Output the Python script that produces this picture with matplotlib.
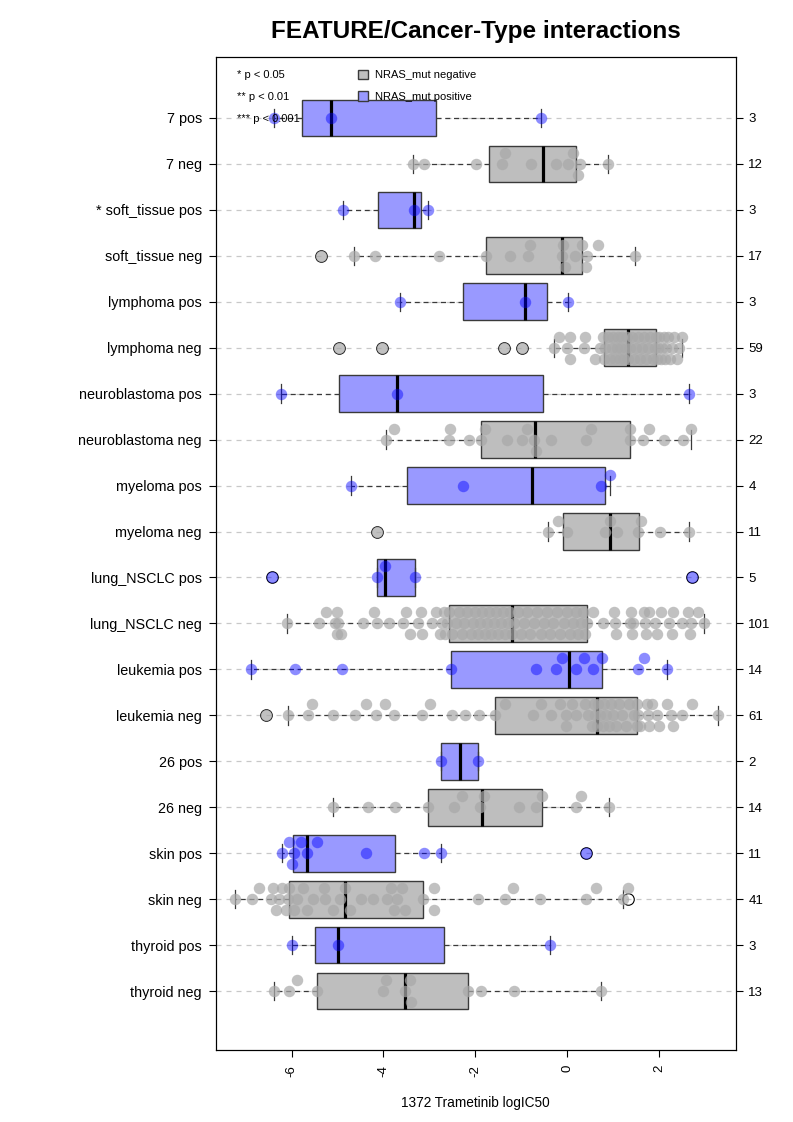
import numpy as np
import matplotlib
matplotlib.use("Agg")
import matplotlib.pyplot as plt
from matplotlib.patches import Patch

plt.rcParams['font.family'] = ['Liberation Sans', 'DejaVu Sans']

# ---------------------------------------
# DATA (top row first)
# ---------------------------------------
labels = ["7 pos", "7 neg", "* soft_tissue pos", "soft_tissue neg",
          "lymphoma pos", "lymphoma neg", "neuroblastoma pos", "neuroblastoma neg",
          "myeloma pos", "myeloma neg", "lung_NSCLC pos", "lung_NSCLC neg",
          "leukemia pos", "leukemia neg", "26 pos", "26 neg",
          "skin pos", "skin neg", "thyroid pos", "thyroid neg"]

v_7_pos = [-6.38, -5.15, -0.57]
v_7_neg = [-3.36, -3.11, -1.99, -1.41, -1.35, -0.79, -0.25, 0.01, 0.13, 0.23, 0.28, 0.89]
v_soft_pos = [-4.89, -3.33, -3.04]
v_soft_neg = [-5.36, -4.63, -4.18, -2.78, -1.77, -1.24, -0.85, -0.81, -0.11, -0.09,
              -0.05, 0.17, 0.32, 0.40, 0.44, 0.66, 1.47]
v_lymph_pos = [-3.63, -0.91, 0.02]
v_lymph_neg = [-4.96, -4.03, -1.37, -0.99, -0.29, -0.19, -0.01, 0.05, 0.06, 0.37,
               0.38, 0.61, 0.72, 0.78, 0.80, 0.82, 0.88, 0.92, 0.97, 1.00,
               1.04, 1.08, 1.10, 1.14, 1.18, 1.20, 1.24, 1.27, 1.30, 1.32,
               1.36, 1.40, 1.45, 1.50, 1.54, 1.58, 1.62, 1.67, 1.72, 1.76,
               1.80, 1.86, 1.90, 1.93, 1.95, 1.98, 2.00, 2.04, 2.07, 2.10,
               2.12, 2.15, 2.20, 2.24, 2.28, 2.32, 2.38, 2.44, 2.50]
v_neuro_pos = [-6.22, -3.70, 2.66]
v_neuro_neg = [-3.95, -3.78, -2.58, -2.56, -2.14, -1.88, -1.78, -1.32, -0.99, -0.87,
               -0.73, -0.68, -0.36, 0.40, 0.51, 1.36, 1.37, 1.65, 1.77, 2.11, 2.52, 2.69]
v_myel_pos = [-4.71, -2.27, 0.74, 0.92]
v_myel_neg = [-4.14, -0.41, -0.20, 0.0, 0.83, 0.93, 1.09, 1.53, 1.61, 2.01, 2.64]
v_lung_pos = [-6.42, -4.14, -3.97, -3.31, 2.72]
v_lung_neg = [-6.09, -5.40, -5.24, -5.06, -5.02, -5.00, -4.98, -4.93, -4.45, -4.21,
              -4.15, -3.88, -3.58, -3.50, -3.42, -3.25, -3.19, -3.17, -2.95, -2.85,
              -2.76, -2.72, -2.69, -2.66, -2.62, -2.57,
              -2.50, -2.42, -2.35, -2.30, -2.25, -2.18, -2.10, -2.05, -2.00, -1.95,
              -1.90, -1.85, -1.80, -1.75, -1.70, -1.65, -1.60, -1.55, -1.50, -1.45,
              -1.40, -1.35, -1.30, -1.25, -1.21,
              -1.15, -1.08, -1.00, -0.95, -0.88, -0.80, -0.72, -0.65, -0.58, -0.50,
              -0.45, -0.38, -0.30, -0.22, -0.15, -0.08, 0.00, 0.06, 0.12, 0.18,
              0.24, 0.30, 0.35, 0.39, 0.42,
              0.55, 0.78, 1.02, 1.04, 1.06, 1.36, 1.38, 1.40, 1.42, 1.66,
              1.69, 1.72, 1.78, 1.90, 1.95, 2.05, 2.21, 2.28, 2.30, 2.50,
              2.62, 2.67, 2.70, 2.85, 2.97]
v_leuk_pos = [-6.88, -5.93, -4.91, -2.52, -0.67, -0.24, -0.11, 0.18, 0.36, 0.57,
              0.75, 1.53, 1.67, 2.16]
v_leuk_neg = [-6.56, -6.07, -5.64, -5.55, -5.10, -4.61, -4.38, -4.17, -3.97, -3.78,
              -3.16, -2.99, -2.50, -2.22, -1.91, -1.57,
              -1.35, -0.75, -0.57, -0.35, -0.16, -0.03, -0.02, 0.11, 0.19, 0.39,
              0.45, 0.54, 0.58, 0.61, 0.64,
              0.67, 0.72, 0.78, 0.80, 0.85, 0.90, 0.95, 1.00, 1.05, 1.12,
              1.20, 1.28, 1.35, 1.45, 1.51,
              1.52, 1.55, 1.58, 1.74, 1.76, 1.78, 1.85, 1.95, 2.00, 2.18,
              2.25, 2.30, 2.50, 2.72, 3.27]
v_26_pos = [-2.74, -1.94]
v_26_neg = [-5.10, -4.33, -3.74, -3.04, -2.47, -2.30, -1.89, -1.81, -1.04, -0.67,
            -0.56, 0.18, 0.29, 0.90]
v_skin_pos = [-6.21, -6.06, -5.98, -5.95, -5.80, -5.67, -5.44, -4.38, -3.11, -2.74, 0.41]
v_skin_neg = [-7.22, -6.86, -6.71, -6.45, -6.40, -6.34, -6.28, -6.20, -6.12, -6.08,
              -6.05, -5.95, -5.89, -5.75, -5.66, -5.53, -5.30, -5.27, -5.10, -4.95,
              -4.84, -4.72, -4.48, -4.22, -3.93, -3.83, -3.76, -3.70, -3.60, -3.52,
              -3.14, -2.91, -2.90, -1.94, -1.35, -1.19, -0.60, 0.40, 0.62, 1.21, 1.33]
v_thyr_pos = [-6.00, -4.99, -0.38]
v_thyr_neg = [-6.39, -6.06, -5.88, -5.44, -4.01, -3.94, -3.52, -3.42, -3.40, -2.15,
              -1.88, -1.16, 0.73]

values = [v_7_pos, v_7_neg, v_soft_pos, v_soft_neg, v_lymph_pos, v_lymph_neg,
          v_neuro_pos, v_neuro_neg, v_myel_pos, v_myel_neg, v_lung_pos, v_lung_neg,
          v_leuk_pos, v_leuk_neg, v_26_pos, v_26_neg, v_skin_pos, v_skin_neg,
          v_thyr_pos, v_thyr_neg]

xticks = [-6, -4, -2, 0, 2]
pvalue_notes = ["* p < 0.05", "** p < 0.01", "*** p < 0.001"]
legend_labels = ["NRAS_mut negative", "NRAS_mut positive"]

GRAY_BOX = "#BEBEBE"
BLUE_BOX = "#9999FF"
GRAY_PT = "#A9A9A9"
BLUE_PT = "#0000FF"


def fivenum(x):
    # hinges like R's fivenum / boxplot.stats
    x = np.sort(np.asarray(x, dtype=float))
    n = len(x)
    n4 = np.floor((n + 3) / 2) / 2
    d = np.array([1, n4, (n + 1) / 2, n + 1 - n4, n]) - 1
    return 0.5 * (x[np.floor(d).astype(int)] + x[np.ceil(d).astype(int)])


def box_stats(x):
    x = np.asarray(x, dtype=float)
    f = fivenum(x)
    iqr = f[3] - f[1]
    lo_lim, hi_lim = f[1] - 1.5 * iqr, f[3] + 1.5 * iqr
    inside = x[(x >= lo_lim) & (x <= hi_lim)]
    return dict(med=f[2], q1=f[1], q3=f[3], whislo=inside.min(), whishi=inside.max(),
                fliers=x[(x < lo_lim) | (x > hi_lim)])


def swarm_offsets(x, dx=0.25, step=0.24):
    # simple beeswarm: centre line first, then above, then below
    x = np.asarray(x, dtype=float)
    placed = {0: [], 1: [], -1: []}
    offs = np.zeros(len(x))
    for i in np.argsort(x, kind="stable"):
        best, bestgap = 0, -1.0
        for lev in (0, 1, -1):
            gap = min([abs(x[i] - p) for p in placed[lev]], default=np.inf)
            if gap >= dx:
                best = lev
                break
            if gap > bestgap:
                best, bestgap = lev, gap
        placed[best].append(x[i])
        offs[i] = best * step
    return offs


n_rows = len(labels)
positions = np.arange(n_rows, 0, -1)
counts = [len(v) for v in values]

fig = plt.figure(figsize=(7.93, 11.22), dpi=100)
ax = fig.add_axes([0.272, 0.0646, 0.656, 0.8843])
ax.set_xlim(-7.65, 3.67)
ax.set_ylim(-0.273, 21.32)

# grid lines
for p in positions:
    ax.axhline(p, color="#C8C8C8", lw=0.9, ls=(0, (4, 4)), zorder=0)

for lab, vals, pos in zip(labels, values, positions):
    is_pos = lab.endswith("pos")
    st = box_stats(vals)
    ax.bxp([st], positions=[pos], widths=0.8, orientation="horizontal",
           patch_artist=True, capwidths=0.4, manage_ticks=False,
           boxprops=dict(facecolor=BLUE_BOX if is_pos else GRAY_BOX,
                         edgecolor="#3A3A3A", lw=1.0),
           medianprops=dict(color="black", lw=2.3),
           whiskerprops=dict(color="#3A3A3A", lw=0.9, ls=(0, (4, 3))),
           capprops=dict(color="#3A3A3A", lw=0.9),
           flierprops=dict(marker="o", markersize=8.3, markerfacecolor="none",
                           markeredgecolor="black", markeredgewidth=0.8))
    off = swarm_offsets(vals)
    ax.scatter(vals, pos + off, s=68, linewidths=0,
               color=BLUE_PT if is_pos else GRAY_PT,
               alpha=0.45 if is_pos else 0.72, zorder=4)

ax.set_yticks(positions)
ax.set_yticklabels(labels, fontsize=10.4)
ax.set_xticks(xticks)
ax.set_xticklabels([str(t) for t in xticks], rotation=90, fontsize=9.5)
ax.tick_params(axis="y", length=5, pad=5)
ax.tick_params(axis="x", length=5, pad=6)
ax.set_xlabel("1372 Trametinib logIC50", fontsize=9.8, labelpad=14)

ax2 = ax.twinx()
ax2.set_ylim(ax.get_ylim())
ax2.set_yticks(positions)
ax2.set_yticklabels([str(c) for c in counts], fontsize=9.5)
ax2.tick_params(axis="y", length=5, pad=4)

for i, txt in enumerate(pvalue_notes):
    ax.text(0.041, 0.982 - i * 0.0222, txt, transform=ax.transAxes,
            fontsize=8, va="center", ha="left", zorder=6)

handles = [Patch(facecolor=GRAY_BOX, edgecolor="#3A3A3A"),
           Patch(facecolor=BLUE_BOX, edgecolor="#3A3A3A")]
ax.legend(handles, legend_labels, loc="upper left", bbox_to_anchor=(0.262, 0.993),
          frameon=False, fontsize=8, handlelength=0.9, handleheight=0.9,
          handletextpad=0.7, labelspacing=1.0, borderpad=0.0)

fig.suptitle("FEATURE/Cancer-Type interactions", fontsize=17.5, fontweight="bold",
             x=0.6, y=0.972, va="center")

fig.savefig("out.png", dpi=100)
